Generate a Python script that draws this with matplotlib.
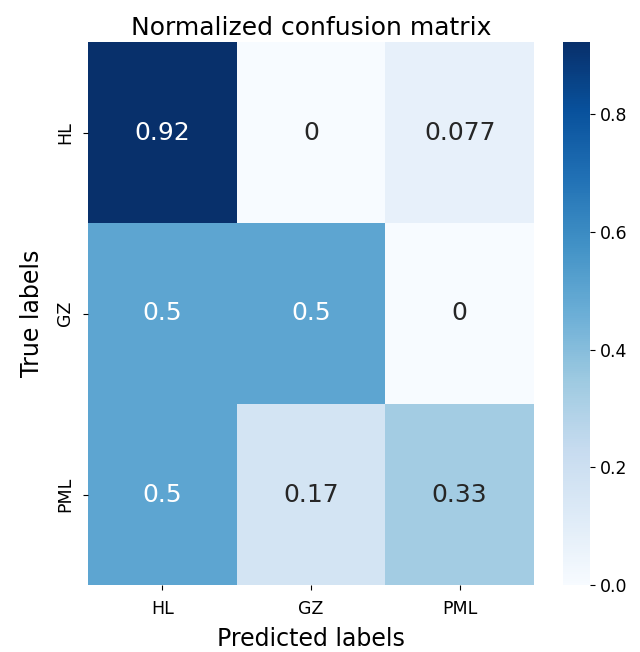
import matplotlib
matplotlib.use("Agg")
import matplotlib.pyplot as plt
import numpy as np
import seaborn as sns

classes = ["HL", "GZ", "PML"]
row_hl = [0.923, 0.0, 0.077]
row_gz = [0.5, 0.5, 0.0]
row_pml = [0.5, 0.167, 0.333]

cm = np.array([row_hl, row_gz, row_pml])

fig = plt.figure(figsize=(6.4, 6.52), dpi=100)
ax = fig.add_axes([88 / 640, 1 - 585 / 652, 446 / 640, 543 / 652])
cax = fig.add_axes([563 / 640, 1 - 585 / 652, 27 / 640, 543 / 652])

sns.heatmap(cm, annot=True, cmap="Blues", ax=ax, cbar_ax=cax,
            annot_kws={"fontsize": 18},
            xticklabels=classes, yticklabels=classes)

ax.set_title("Normalized confusion matrix", fontsize=18, pad=5)
ax.set_xlabel("Predicted labels", fontsize=17, labelpad=7)
ax.set_ylabel("True labels", fontsize=17, labelpad=9)
ax.tick_params(axis="both", labelsize=12.5)
ax.tick_params(axis="x", pad=7)
ax.tick_params(axis="y", pad=6.5)
plt.setp(ax.get_yticklabels(), rotation=90, va="center")
plt.setp(ax.get_xticklabels(), rotation=0)
cax.tick_params(labelsize=12.5)

fig.savefig("out.png", dpi=100)
